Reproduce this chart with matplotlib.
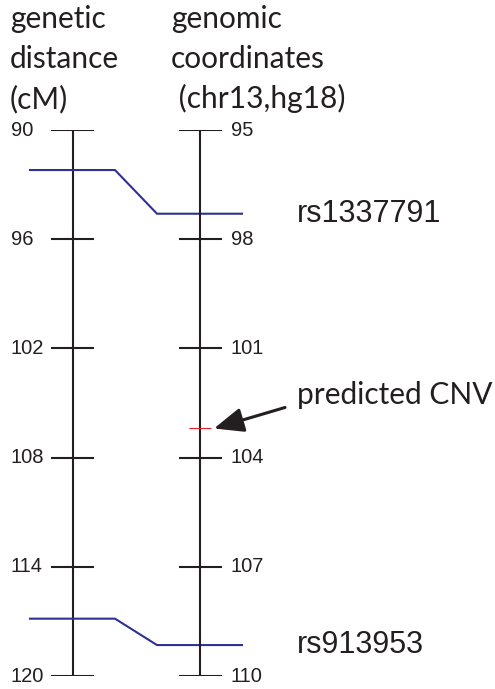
import matplotlib
matplotlib.use("Agg")
import matplotlib.pyplot as plt

# ---- data ----
genetic_ticks = [90, 96, 102, 108, 114, 120]          # cM
genomic_ticks = [95, 98, 101, 104, 107, 110]          # Mb, chr13 hg18
snp_names = ["rs1337791", "rs913953"]
snp_genetic = [92.2, 116.85]                          # cM
snp_genomic = [97.3, 109.15]                          # Mb
cnv_genomic = 103.2                                   # Mb
title_left = ["genetic", "distance", "(cM)"]
title_right = ["genomic", "coordinates", " (chr13,hg18)"]

W, H = 495, 689
fig = plt.figure(figsize=(W / 100, H / 100), dpi=100)
top_px, bot_px = 130, 676
ax = fig.add_axes([0, 1 - bot_px / H, 1, (bot_px - top_px) / H])
ax.set_xlim(0, W)
ax.set_ylim(genetic_ticks[-1], genetic_ticks[0])
ax.axis("off")
ax2 = ax.twinx()
ax2.set_ylim(genomic_ticks[-1], genomic_ticks[0])
ax2.axis("off")

def mb_to_cm(mb):
    g0, g1 = genetic_ticks[0], genetic_ticks[-1]
    m0, m1 = genomic_ticks[0], genomic_ticks[-1]
    return g0 + (mb - m0) * (g1 - g0) / (m1 - m0)

black = "#231f20"
blue = "#2e3192"
num_font = "Liberation Sans"
txt_font = "Lato"

xl, xr = 72.5, 200
tick_half = 21.5
lw = 1.5

# left axis
ax.vlines(xl, genetic_ticks[0], genetic_ticks[-1], color=black, lw=lw)
ax.hlines(genetic_ticks, xl - tick_half, xl + tick_half, color=black, lw=lw)
for t in genetic_ticks:
    ax.text(11, t, str(t), ha="left", va="center",
            fontsize=14.5, family=num_font, color=black)

# right axis
ax2.vlines(xr, genomic_ticks[0], genomic_ticks[-1], color=black, lw=lw)
ax2.hlines(genomic_ticks, xr - tick_half, xr + tick_half, color=black, lw=lw)
for t in genomic_ticks:
    ax2.text(xr + tick_half + 9, t, str(t), ha="left", va="center",
             fontsize=14.5, family=num_font, color=black)

# SNP connectors
for name, g, m in zip(snp_names, snp_genetic, snp_genomic):
    c = mb_to_cm(m)
    ax.plot([30, 115, 157, 242], [g, g, c, c], color=blue, lw=1.5,
            solid_joinstyle="miter")
    ax.text(297, c, name, ha="left", va="center", fontsize=22,
            family=num_font, color=black)

# predicted CNV
ax2.hlines(cnv_genomic, 189, 211, color="#ed1c24", lw=0.8)
ax2.annotate("", xy=(214, cnv_genomic), xycoords="data",
             xytext=(71, 21), textcoords="offset pixels",
             arrowprops=dict(arrowstyle="-|>,head_length=0.6,head_width=0.25",
                             mutation_scale=30, lw=2.2, color=black,
                             shrinkA=0, shrinkB=0))
ax2.annotate("predicted CNV", xy=(214, cnv_genomic), xycoords="data",
             xytext=(83, 33), textcoords="offset pixels",
             ha="left", va="center", fontsize=21.5, family=txt_font, color=black)

# titles
for i, (a, b) in enumerate(zip(title_left, title_right)):
    y = 1 - (28 + 40 * i) / H
    fig.text(10 / W, y, a, ha="left", va="baseline", fontsize=21.5,
             family=txt_font, color=black)
    fig.text(171 / W, y, b, ha="left", va="baseline", fontsize=21.5,
             family=txt_font, color=black)

fig.savefig("out.png", dpi=100)
